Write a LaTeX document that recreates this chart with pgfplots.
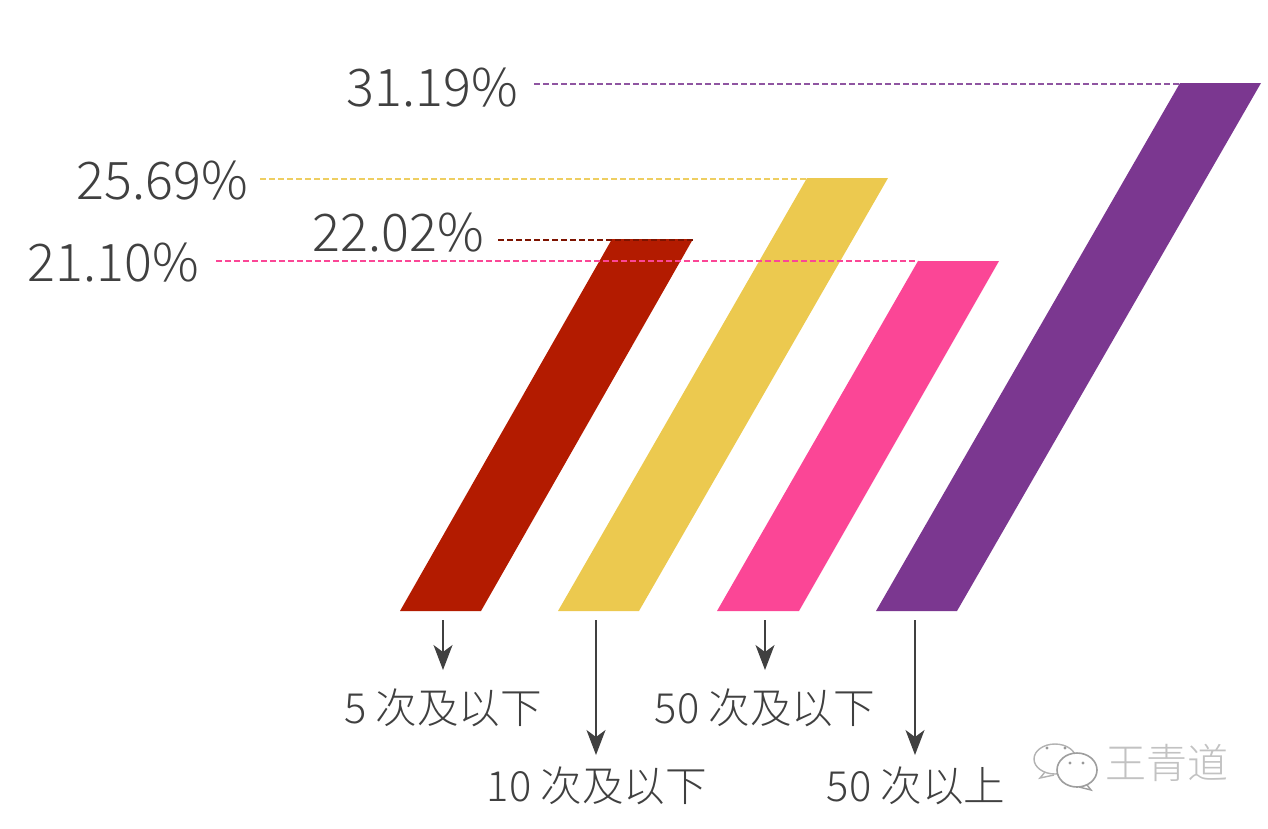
\documentclass[border=0pt]{standalone}
\usepackage{pgfplots}
\pgfplotsset{compat=1.18}
\usepackage{fontspec}
\usetikzlibrary{arrows.meta}
\setmainfont{Noto Sans CJK SC Light}
\definecolor{txt}{HTML}{404040}
\definecolor{cred}{HTML}{B31B00}
\definecolor{cyel}{HTML}{ECC94F}
\definecolor{cpink}{HTML}{FB4696}
\definecolor{cpur}{HTML}{7B3790}
\tikzset{
  big/.style={font=\fontsize{52}{52}\selectfont, text=txt, anchor=east, inner sep=0pt},
  cat/.style={font=\fontsize{41.6}{42}\selectfont, text=txt, anchor=center, inner sep=0pt},
  lead/.style={line width=1.4pt, dash pattern=on 5.5pt off 3.5pt},
  arr/.style={txt, line width=1.6pt, -{Stealth[length=25pt,width=19pt,inset=7pt]}},
}
\begin{document}
\begin{tikzpicture}
\begin{axis}[
  hide axis, scale only axis, width=1268pt, height=828pt,
  xmin=0, xmax=1268, ymin=0, ymax=828, y dir=reverse, clip=false,
]
\path (axis cs:0,0) rectangle (axis cs:1268,828);
% bars
\addplot[fill=cred, draw=none] coordinates {(400,611) (481,611) (693,239) (612,239)} -- cycle;
\addplot[fill=cyel, draw=none] coordinates {(558,611) (639,611) (888,178) (807,178)} -- cycle;
\addplot[fill=cpink, draw=none] coordinates {(717,611) (799,611) (999,261) (918,261)} -- cycle;
\addplot[fill=cpur, draw=none] coordinates {(876,611) (957,611) (1261,83) (1180,83)} -- cycle;
% leader lines
\addplot[cpur!85, lead] coordinates {(534,84) (1180,84)};
\addplot[cyel!90, lead] coordinates {(260,179) (807,179)};
\addplot[cred!70!black, lead] coordinates {(498,240) (693,240)};
\addplot[cpink, lead] coordinates {(216,261) (918,261)};
% arrows
\addplot[arr] coordinates {(443,620) (443,670)};
\addplot[arr] coordinates {(596,620) (596,755)};
\addplot[arr] coordinates {(765,620) (765,670)};
\addplot[arr] coordinates {(915,620) (915,755)};
% value labels
\node[big] at (axis cs:518,88) {31.19\%};
\node[big] at (axis cs:248,181) {25.69\%};
\node[big] at (axis cs:484,233) {22.02\%};
\node[big] at (axis cs:199,263) {21.10\%};
% category labels
\node[cat] at (axis cs:443,708) {5 次及以下};
\node[cat] at (axis cs:597,786) {10 次及以下};
\node[cat] at (axis cs:765,708) {50 次及以下};
\node[cat] at (axis cs:916,786) {50 次以上};
% watermark
\node[font=\fontsize{41}{41}\selectfont, text=black!24, inner sep=0pt] at (axis cs:1167,763) {王青道};
\draw[black!30, line width=1.4pt, fill=white] (axis cs:1055,759) ellipse [x radius=21pt, y radius=15pt];
\draw[black!30, line width=1.4pt] (axis cs:1045,772) -- (axis cs:1040,778) -- (axis cs:1054,775);
\draw[black!38, line width=1.6pt, fill=white] (axis cs:1077,770) ellipse [x radius=20pt, y radius=17pt];
\draw[black!38, line width=1.4pt] (axis cs:1087,785) -- (axis cs:1091,790) -- (axis cs:1079,787);
\fill[black!40] (axis cs:1047,748) circle (1.7pt) (axis cs:1065,748) circle (1.7pt) (axis cs:1070,763) circle (1.7pt) (axis cs:1083,763) circle (1.7pt);
\end{axis}
\end{tikzpicture}
\end{document}
